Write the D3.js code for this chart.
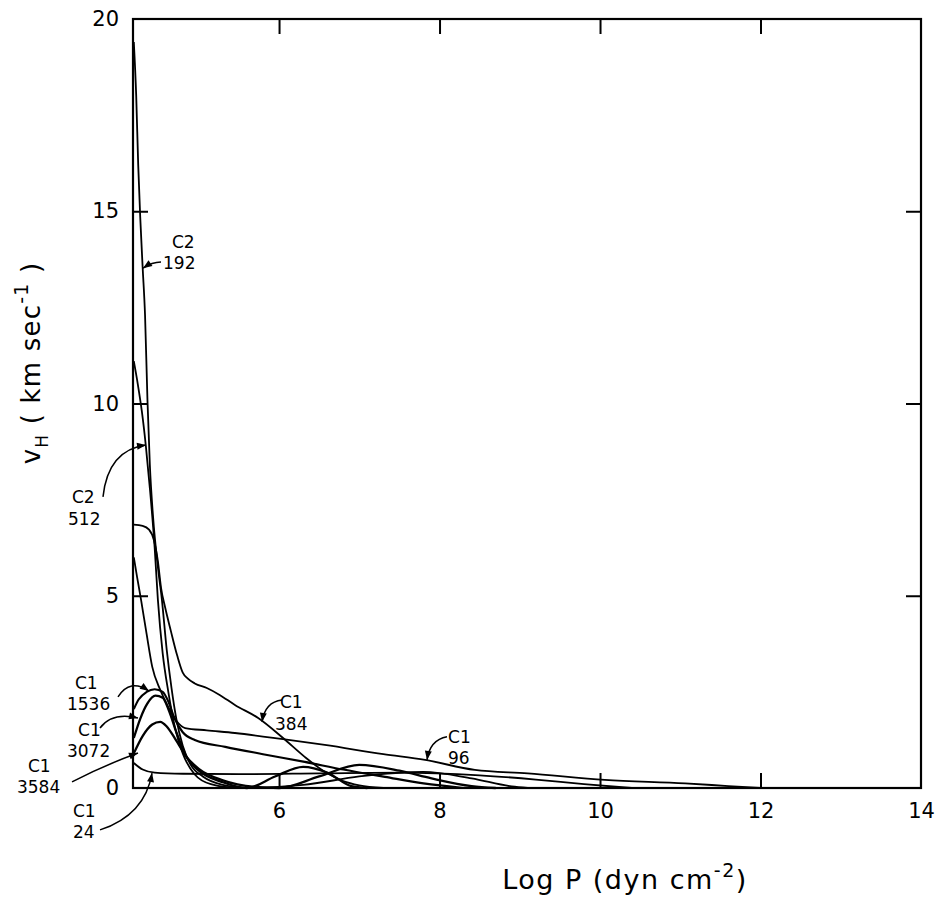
<!DOCTYPE html>
<html>
<head>
<meta charset="utf-8">
<script src="https://cdn.jsdelivr.net/npm/d3@7"></script>
<style>
  html, body { margin: 0; padding: 0; background: #fff; }
  svg { display: block; }
  text { font-family: "DejaVu Sans", "Liberation Sans", sans-serif; fill: #000; }
</style>
</head>
<body>
<svg id="chart" width="944" height="899"></svg>
<script>
// ---------- data (log P [dyn cm^-2], v_H [km/s]) ----------
const xTicks = [6, 8, 10, 12, 14];
const yTicks = [0, 5, 10, 15, 20];
const xInnerTicks = [6, 8, 10, 12];
const yInnerTicks = [5, 10, 15];

const c2_192 = [[4.19,19.4],[4.22,18.0],[4.245,16.2],[4.27,14.85],[4.30,13.55],[4.33,12.3],[4.36,10.1],[4.39,8.4],[4.43,7.05],[4.49,5.75],[4.54,4.9],[4.6,3.6],[4.66,2.6],[4.72,1.8],[4.8,1.1],[4.9,0.6],[5.05,0.3],[5.3,0.08],[5.6,0.0]];
const c2_512 = [[4.19,11.1],[4.24,10.5],[4.29,9.8],[4.34,8.9],[4.39,7.8],[4.45,6.25],[4.49,4.9],[4.55,3.5],[4.62,2.5],[4.7,1.6],[4.8,0.9],[4.95,0.35],[5.15,0.1],[5.5,0.0],[6.3,0.08],[7.0,0.3],[7.8,0.42],[8.4,0.25],[8.9,0.04],[9.1,0.0]];
const c1_384 = [[4.19,6.85],[4.3,6.82],[4.38,6.72],[4.44,6.45],[4.49,5.9],[4.53,5.2],[4.58,4.7],[4.65,4.1],[4.73,3.45],[4.8,3.0],[4.86,2.85],[4.95,2.72],[5.1,2.6],[5.26,2.42],[5.45,2.16],[5.74,1.82],[6.05,1.3],[6.32,0.81],[6.57,0.42],[6.8,0.18],[7.0,0.07],[7.3,0.0]];
const c1_96 = [[4.19,6.0],[4.23,5.5],[4.28,4.9],[4.35,4.0],[4.42,3.15],[4.52,2.55],[4.62,2.1],[4.72,1.75],[4.83,1.56],[5.1,1.5],[5.45,1.43],[6.05,1.27],[6.57,1.12],[7.3,0.88],[7.82,0.73],[8.44,0.47],[9.1,0.38],[10.06,0.21],[11.06,0.12],[11.6,0.05],[12.0,0.0]];
const c1_1536 = [[4.19,2.05],[4.25,2.3],[4.35,2.5],[4.45,2.57],[4.55,2.5],[4.62,2.25],[4.7,1.8],[4.8,1.45],[4.95,1.25],[5.33,1.07],[5.8,0.88],[6.32,0.68],[6.8,0.48],[7.32,0.29],[7.8,0.12],[8.3,0.0]];
const c1_3072 = [[4.19,1.3],[4.27,1.8],[4.36,2.2],[4.46,2.4],[4.55,2.35],[4.63,2.0],[4.72,1.45],[4.85,0.8],[5.0,0.45],[5.3,0.15],[5.6,0.0],[5.95,0.3],[6.3,0.55],[6.6,0.4],[6.9,0.05],[7.1,0.0]];
const c1_3584 = [[4.19,0.9],[4.3,1.35],[4.42,1.65],[4.52,1.72],[4.6,1.6],[4.7,1.3],[4.85,0.8],[5.0,0.5],[5.3,0.2],[5.7,0.03],[6.0,0.0],[6.5,0.3],[7.0,0.6],[7.5,0.45],[7.9,0.25],[8.4,0.05],[8.7,0.0]];
const c1_24 = [[4.19,0.65],[4.3,0.48],[4.45,0.4],[4.8,0.37],[5.5,0.36],[6.5,0.38],[7.5,0.4],[8.5,0.33],[9.2,0.22],[9.8,0.1],[10.4,0.0]];

const series = [c2_192, c2_512, c1_384, c1_96, c1_1536, c1_3072, c1_3584, c1_24];

const labelTexts = [["C2","192"],["C2","512"],["C1","1536"],["C1","3072"],["C1","3584"],["C1","24"],["C1","384"],["C1","96"]];

// ---------- layout ----------
const svg = d3.select("#chart");
const x = d3.scaleLinear().domain([4.18, 14]).range([133, 921]);
const y = d3.scaleLinear().domain([0, 20]).range([788, 19]);

const g = svg.append("g");

// frame
g.append("rect")
  .attr("x", x(4.18)).attr("y", y(20))
  .attr("width", x(14) - x(4.18)).attr("height", y(0) - y(20))
  .attr("fill", "none").attr("stroke", "#000").attr("stroke-width", 2.2);

// bottom axis with inner ticks and labels
const axB = g.append("g").attr("transform", `translate(0,${y(0)})`)
  .call(d3.axisBottom(x).tickValues(xTicks).tickSizeInner(-15).tickSizeOuter(0).tickPadding(15).tickFormat(d3.format("d")));
axB.select(".domain").remove();
axB.selectAll(".tick line").attr("stroke-width", 2).filter(d => !xInnerTicks.includes(d)).remove();
axB.selectAll("text").attr("font-size", 21);

// left axis
const axL = g.append("g").attr("transform", `translate(${x(4.18)},0)`)
  .call(d3.axisLeft(y).tickValues(yTicks).tickSizeInner(-15).tickSizeOuter(0).tickPadding(14).tickFormat(d3.format("d")));
axL.select(".domain").remove();
axL.selectAll(".tick line").attr("stroke-width", 2).filter(d => !yInnerTicks.includes(d)).remove();
axL.selectAll("text").attr("font-size", 21);

// top axis (ticks only)
const axT = g.append("g").attr("transform", `translate(0,${y(20)})`)
  .call(d3.axisTop(x).tickValues(xInnerTicks).tickSizeInner(-15).tickSizeOuter(0).tickFormat(""));
axT.select(".domain").remove();
axT.selectAll(".tick line").attr("stroke-width", 2);

// right axis (ticks only)
const axR = g.append("g").attr("transform", `translate(${x(14)},0)`)
  .call(d3.axisRight(y).tickValues(yInnerTicks).tickSizeInner(-15).tickSizeOuter(0).tickFormat(""));
axR.select(".domain").remove();
axR.selectAll(".tick line").attr("stroke-width", 2);

// curves
const line = d3.line().x(d => x(d[0])).y(d => y(d[1])).curve(d3.curveMonotoneX);
const widths = [1.8, 1.8, 1.8, 1.8, 2.1, 2.3, 2.3, 1.8];
g.append("g").selectAll("path").data(series).join("path")
  .attr("d", line)
  .attr("fill", "none").attr("stroke", "#000")
  .attr("stroke-width", (d, i) => widths[i])
  .attr("stroke-linejoin", "round");

// annotations (positions in data units): first-line, second-line anchors, arrow start/control/tip
const ann = [
  {t: labelTexts[0], l1: [4.666, 14.04], l2: [4.554, 13.50], a: [[4.529,13.68],[4.417,13.68],[4.305,13.52]]},
  {t: labelTexts[1], l1: [3.420, 7.41],  l2: [3.370, 6.84],  a: [[3.806,7.57],[3.868,8.79],[4.342,8.92]]},
  {t: labelTexts[2], l1: [3.457, 2.575], l2: [3.357, 2.03],  a: [[3.993,2.37],[4.143,2.86],[4.379,2.52]]},
  {t: labelTexts[3], l1: [3.495, 1.35],  l2: [3.357, 0.81],  a: [[3.769,1.56],[3.918,1.98],[4.242,1.82]]},
  {t: labelTexts[4], l1: [2.871, 0.42],  l2: [2.734, -0.13], a: [[3.420,0.16],[3.831,0.60],[4.242,0.91]]},
  {t: labelTexts[5], l1: [3.432, -0.75], l2: [3.432, -1.30], a: [[3.769,-1.09],[4.330,-0.70],[4.417,0.39]]},
  {t: labelTexts[6], l1: [6.012, 2.08],  l2: [5.950, 1.51],  a: [[6.037,2.29],[5.825,2.24],[5.788,1.72]]},
  {t: labelTexts[7], l1: [8.106, 1.17],  l2: [8.106, 0.62],  a: [[8.093,1.33],[7.881,1.25],[7.844,0.73]]}
];

const annG = g.append("g");
ann.forEach(o => {
  annG.append("text").attr("x", x(o.l1[0])).attr("y", y(o.l1[1]))
    .attr("font-size", 17).text(o.t[0]);
  annG.append("text").attr("x", x(o.l2[0])).attr("y", y(o.l2[1]))
    .attr("font-size", 17).text(o.t[1]);
  const p = d3.path();
  p.moveTo(x(o.a[0][0]), y(o.a[0][1]));
  p.quadraticCurveTo(x(o.a[1][0]), y(o.a[1][1]), x(o.a[2][0]), y(o.a[2][1]));
  annG.append("path").attr("d", p.toString()).attr("fill", "none").attr("stroke", "#000").attr("stroke-width", 1.5);
  const ex = x(o.a[2][0]), ey = y(o.a[2][1]);
  const cx = x(o.a[1][0]), cy = y(o.a[1][1]);
  const ang = Math.atan2(ey - cy, ex - cx);
  const L = 9, W = 3.5;
  const pts = [[ex, ey],
    [ex - L*Math.cos(ang) + W*Math.sin(ang), ey - L*Math.sin(ang) - W*Math.cos(ang)],
    [ex - L*Math.cos(ang) - W*Math.sin(ang), ey - L*Math.sin(ang) + W*Math.cos(ang)]];
  annG.append("path").attr("d", "M" + pts.map(q => q.join(",")).join("L") + "Z").attr("fill", "#000");
});

// axis titles
const xt = svg.append("text").attr("x", 625).attr("y", 889).attr("text-anchor", "middle")
  .attr("font-size", 27).attr("letter-spacing", 1.5);
xt.append("tspan").text("Log P (dyn cm");
xt.append("tspan").attr("dy", -12).attr("font-size", 19).text("-2");
xt.append("tspan").attr("dy", 12).text(")");

const yt = svg.append("text").attr("transform", "translate(40,363) rotate(-90)").attr("text-anchor", "middle")
  .attr("font-size", 26).attr("letter-spacing", 1.2);
yt.append("tspan").text("v");
yt.append("tspan").attr("dy", 8).attr("font-size", 17).text("H");
yt.append("tspan").attr("dy", -8).text(" ( km  sec");
yt.append("tspan").attr("dy", -12).attr("font-size", 19).text("-1");
yt.append("tspan").attr("dy", 12).text(" )");
</script>
</body>
</html>
